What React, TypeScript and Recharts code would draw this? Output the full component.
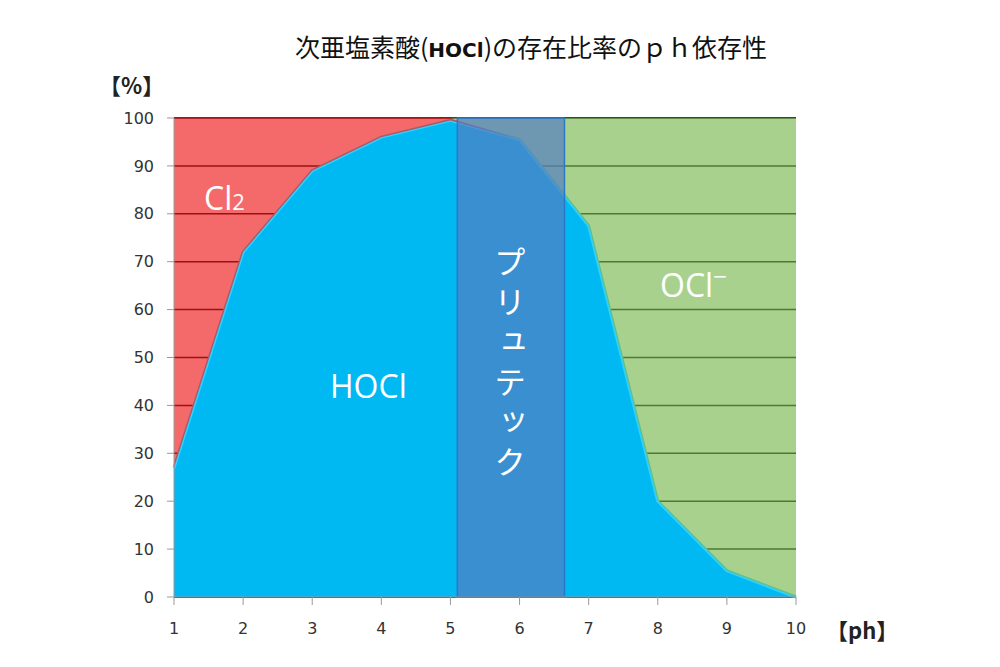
import { ComposedChart, Area, XAxis, YAxis, CartesianGrid, ReferenceArea } from 'recharts';

const phValues = [1, 2, 3, 4, 5, 6, 7, 8, 9, 10];
const hoclValues = [27, 72, 89, 96, 99.5, 95.5, 77.5, 20, 5.5, 0];
const cl2Values = [73, 28, 11, 4, 0.5, 0, 0, 0, 0, 0];
const oclValues = [0, 0, 0, 0, 0, 4.5, 22.5, 80, 94.5, 100];
const yTicks = [0, 10, 20, 30, 40, 50, 60, 70, 80, 90, 100];
const bandStart = 5.1;
const bandEnd = 6.65;

const data = phValues.map((ph, i) => ({
  ph,
  hocl: hoclValues[i],
  cl2: cl2Values[i],
  ocl: oclValues[i],
}));

const labelFont = '"Open Sans", sans-serif';

export default function App() {
  return (
    <div style={{ position: 'absolute', left: 0, top: 0, width: 1000, height: 667, background: '#fff' }}>
      <div
        style={{
          position: 'absolute',
          left: 0,
          width: 1000,
          top: 28,
          paddingLeft: 62,
          textAlign: 'center',
          fontFamily: '"Noto Sans CJK JP", sans-serif',
          fontSize: 25,
          color: '#111',
          boxSizing: 'border-box',
          whiteSpace: 'nowrap',
        }}
      >
        次亜塩素酸(<span style={{ fontSize: 20, fontWeight: 700, fontFamily: '"DejaVu Sans", sans-serif' }}>HOCl</span>)の存在比率のｐｈ依存性
      </div>
      <div style={{ position: 'absolute', left: 99, top: 68, fontFamily: '"Noto Sans CJK JP", sans-serif', fontSize: 22, fontWeight: 700, color: '#222' }}>
        【%】
      </div>
      <div style={{ position: 'absolute', left: 826, top: 613, fontFamily: '"Noto Sans CJK JP", sans-serif', fontSize: 22, fontWeight: 700, color: '#222' }}>
        【ph】
      </div>

      <ComposedChart width={1000} height={667} data={data} margin={{ top: 118, right: 204, bottom: 40, left: 134 }}>
        <CartesianGrid vertical={false} stroke="#000" strokeWidth={1.5} />
        <XAxis
          dataKey="ph"
          type="number"
          domain={[1, 10]}
          ticks={phValues}
          height={30}
          stroke="#999"
          tickSize={8}
          tickMargin={18}
          tick={{ fill: '#333', fontSize: 16, fontFamily: '"DejaVu Sans", sans-serif' }}
        />
        <YAxis
          type="number"
          domain={[0, 100]}
          ticks={yTicks}
          width={40}
          stroke="#999"
          tickSize={7}
          tickMargin={13}
          tick={{ fill: '#333', fontSize: 16, fontFamily: '"DejaVu Sans", sans-serif' }}
        />
        <Area
          type="linear"
          dataKey="hocl"
          stackId="a"
          stroke="#2fd2ff"
          strokeWidth={3}
          fill="#00b8f2"
          fillOpacity={1}
          isAnimationActive={false}
        />
        <Area
          type="linear"
          dataKey="cl2"
          stackId="a"
          stroke="none"
          fill="#ee1a1a"
          fillOpacity={0.65}
          isAnimationActive={false}
        />
        <Area
          type="linear"
          dataKey="ocl"
          stackId="a"
          stroke="none"
          fill="#7bb952"
          fillOpacity={0.65}
          isAnimationActive={false}
        />
        <ReferenceArea
          x1={bandStart}
          x2={bandEnd}
          y1={0}
          y2={100}
          fill="#547dc2"
          fillOpacity={0.69}
          stroke="#2a78c8"
          strokeWidth={1.5}
        />
      </ComposedChart>

      <div style={{ position: 'absolute', left: 204, top: 176, color: '#fff', fontFamily: labelFont, fontSize: 32 }}>
        Cl<span style={{ fontSize: 22 }}>2</span>
      </div>
      <div style={{ position: 'absolute', left: 330, top: 364, color: '#fff', fontFamily: labelFont, fontSize: 32 }}>
        HOCl
      </div>
      <div style={{ position: 'absolute', left: 660, top: 263, color: '#fff', fontFamily: labelFont, fontSize: 32 }}>
        OCl<span style={{ verticalAlign: 'super', fontSize: 24, lineHeight: 0 }}>−</span>
      </div>
      <div
        style={{
          position: 'absolute',
          left: 494,
          top: 246,
          color: '#fff',
          fontFamily: '"Noto Sans CJK JP", sans-serif',
          fontSize: 32,
          writingMode: 'vertical-rl',
          letterSpacing: 8,
          lineHeight: 1,
        }}
      >
        プリュテック
      </div>
    </div>
  );
}
